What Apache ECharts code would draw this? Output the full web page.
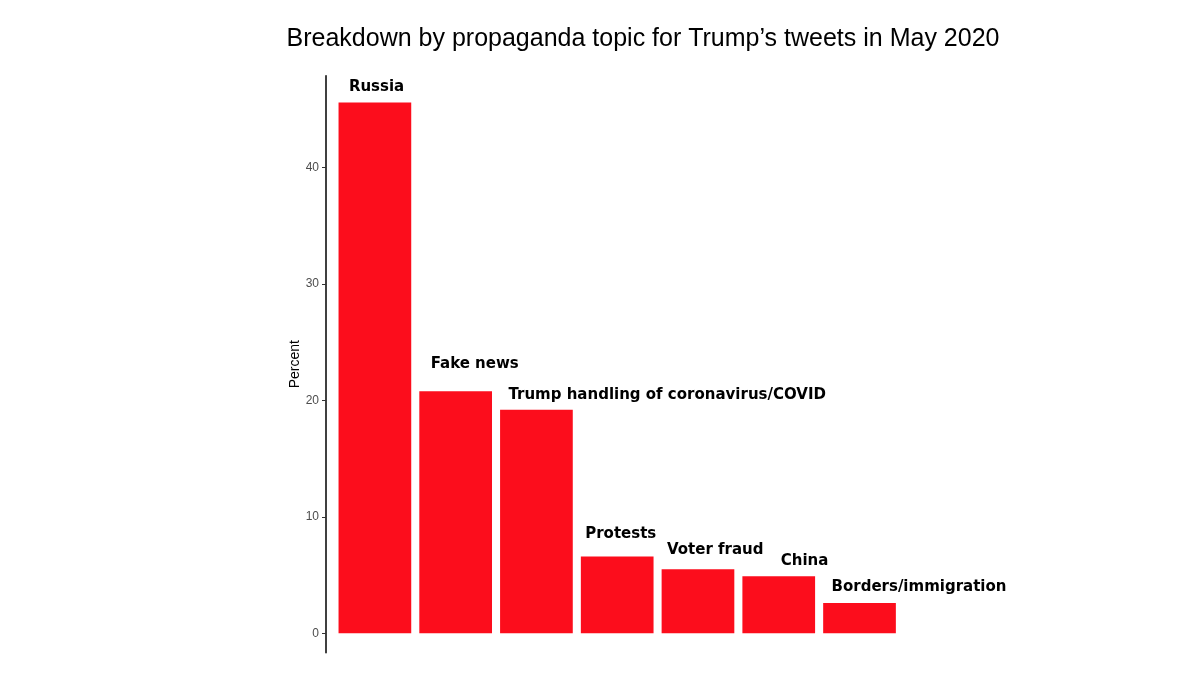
<!DOCTYPE html>
<html>
<head>
<meta charset="utf-8">
<script src="https://cdn.jsdelivr.net/npm/echarts@6/dist/echarts.min.js"></script>
<style>
  html, body { margin: 0; padding: 0; background: #fff; }
  #chart { width: 1200px; height: 675px; }
</style>
</head>
<body>
<div id="chart"></div>
<script>
// topics and their share (%) of Trump's propaganda tweets, May 2020
const topics = [
  "Russia",
  "Fake news",
  "Trump handling of coronavirus/COVID",
  "Protests",
  "Voter fraud",
  "China",
  "Borders/immigration",
];
const percent = [45.6, 20.8, 19.2, 6.6, 5.5, 4.9, 2.6];
const yTicks = [0, 10, 20, 30, 40];

// label nudges (px from bar centre / bar top), roughly where the repel put them
const labelNudge = [
  [-26, 15],
  [-25, 27],
  [-28, 15],
  [-32, 22],
  [-31, 19],
  [2, 15],
  [-28, 16],
];

const chart = echarts.init(document.getElementById("chart"));

const option = {
  animation: false,
  title: {
    text: "Breakdown by propaganda topic for Trump\u2019s tweets in May 2020",
    left: 638,
    top: 22,
    textAlign: "center",
    textStyle: {
      fontFamily: "Liberation Sans",
      fontSize: 25,
      fontWeight: "normal",
      color: "#000",
    },
  },
  grid: {
    left: 334.5,
    top: 75.7,
    width: 565.4,
    height: 577,
  },
  xAxis: {
    type: "category",
    data: topics,
    axisLine: { show: false },
    axisTick: { show: false },
    axisLabel: { show: false },
  },
  yAxis: {
    type: "value",
    min: -1.66,
    max: 47.9,
    offset: 8.5,
    name: "Percent",
    nameLocation: "middle",
    nameGap: 18,
    nameTextStyle: {
      fontFamily: "Liberation Sans",
      fontSize: 14,
      color: "#000",
    },
    splitLine: { show: false },
    axisLine: { show: true, lineStyle: { color: "#000", width: 1.5 } },
    axisTick: {
      show: true,
      customValues: yTicks,
      length: 4,
      lineStyle: { color: "#333" },
    },
    axisLabel: {
      customValues: yTicks,
      margin: 7,
      fontFamily: "Liberation Sans",
      fontSize: 12,
      color: "#4d4d4d",
    },
  },
  series: [
    {
      type: "bar",
      barCategoryGap: "10%",
      itemStyle: { color: "#fc0d1c" },
      data: percent.map((v, i) => ({
        value: v,
        label: {
          show: true,
          position: "top",
          distance: 0,
          align: "left",
          verticalAlign: "middle",
          offset: [labelNudge[i][0], -labelNudge[i][1]],
          formatter: topics[i],
          fontFamily: "DejaVu Sans",
          fontWeight: "bold",
          fontSize: 15,
          color: "#000",
        },
      })),
    },
  ],
};

chart.setOption(option);
</script>
</body>
</html>
